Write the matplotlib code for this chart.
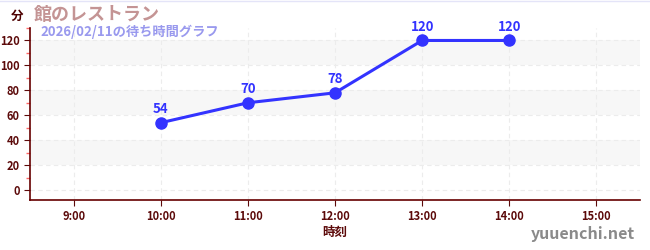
import matplotlib
matplotlib.use("Agg")
import matplotlib.pyplot as plt
from matplotlib.ticker import MultipleLocator
from matplotlib.lines import Line2D

plt.rcParams['font.family'] = ['Noto Sans CJK JP', 'DejaVu Sans']

title = "館のレストラン"
subtitle = "2026/02/11の待ち時間グラフ"
hours = [10, 11, 12, 13, 14]
waits = [54, 70, 78, 120, 120]
xticks = [9, 10, 11, 12, 13, 14, 15]
xticklabels = ["9:00", "10:00", "11:00", "12:00", "13:00", "14:00", "15:00"]
yticks = [0, 20, 40, 60, 80, 100, 120]

axis_col = "#5c0a0a"
line_col = "#3333ff"

fig = plt.figure(figsize=(6.5, 2.5), dpi=100)
ax = fig.add_axes([30/650, 50/250, 610/650, 172/250])

ax.set_xlim(8.5, 15.5)
ax.set_ylim(-8, 130)

for lo in (20, 60, 100):
    ax.axhspan(lo, lo + 20, color="#f7f7f7", zorder=0, lw=0)

ax.set_xticks(xticks)
ax.set_xticklabels(xticklabels)
ax.set_yticks(yticks)
ax.yaxis.set_minor_locator(MultipleLocator(10))
ax.grid(True, which="major", color="#ececec", linestyle=(0, (4, 3)), lw=0.8, zorder=1)

ax.plot(hours, waits, color=line_col, lw=2.2, marker="o", ms=8, zorder=3, solid_capstyle="round")
for h, w in zip(hours, waits):
    ax.annotate(str(w), (h, w), xytext=(0, 5), textcoords="offset points",
                ha="center", va="bottom", color=line_col, fontsize=9.5, fontweight="bold")

for s in ("top", "right"):
    ax.spines[s].set_visible(False)
for s in ("left", "bottom"):
    ax.spines[s].set_color("#660000")
    ax.spines[s].set_linewidth(1.2)

ax.tick_params(axis="both", which="major", colors=axis_col, labelsize=8, length=4, width=0.8)
ax.tick_params(axis="y", which="minor", colors="#ff6666", length=3, width=1)
for lbl in ax.get_xticklabels() + ax.get_yticklabels():
    lbl.set_fontweight("bold")
    lbl.set_color(axis_col)

ax.set_xlabel("時刻", color=axis_col, fontsize=9, fontweight="bold", labelpad=2)

fig.add_artist(Line2D([0, 1], [1 - 0.5/250, 1 - 0.5/250], transform=fig.transFigure,
                      color="#e4e4f8", lw=1))

fig.text(17/650, 1 - 16/250, "分", color="#4d0000", fontsize=9, fontweight="bold", ha="center", va="center")
fig.text(34/650, 1 - 14/250, title, color="#c49494", fontsize=13, fontweight="bold", ha="left", va="center")
fig.text(40/650, 1 - 32/250, subtitle, color="#9999ee", fontsize=9.5, fontweight="bold", ha="left", va="center")
fig.text(635/650, 1 - 234/250, "yuuenchi.net", color="#8a8a8a", fontsize=11.5, fontweight="bold", ha="right", va="center")

fig.savefig("out.png", dpi=100)
